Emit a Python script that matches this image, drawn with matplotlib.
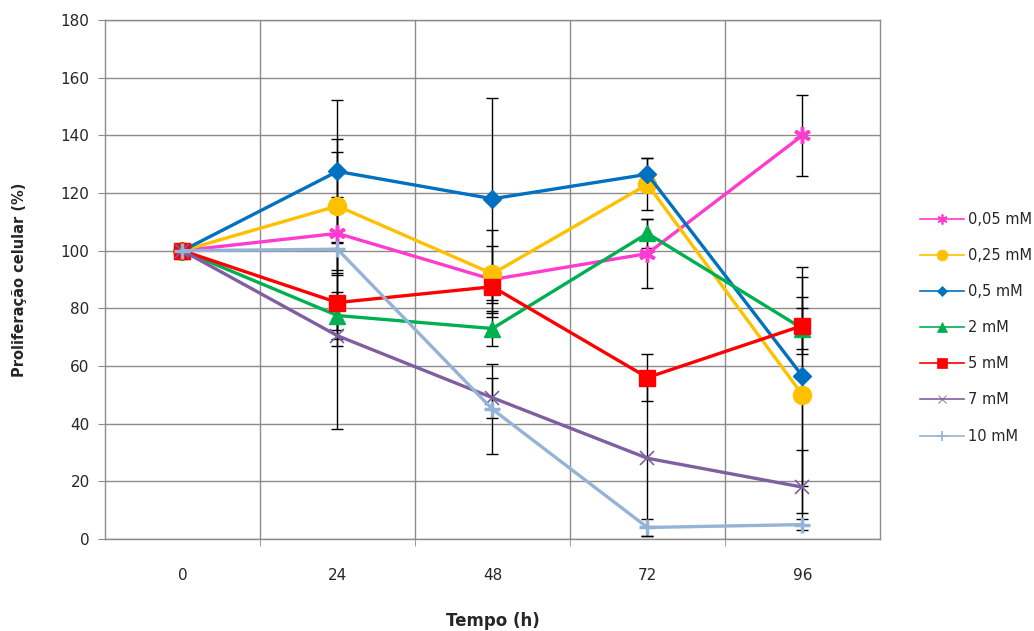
import numpy as np
import matplotlib
import matplotlib.pyplot as plt

matplotlib.use('Agg')

# data
tempo = ['0', '24', '48', '72', '96']
labels = ['0,05 mM', '0,25 mM', '0,5 mM', '2 mM', '5 mM', '7 mM', '10 mM']

c005 = [100, 106, 90, 99, 140]
c025 = [100, 115.5, 92, 123, 50]
c05 = [100, 127.5, 118, 126.5, 56.5]
c2 = [100, 77.5, 73, 106, 73]
c5 = [100, 82, 87.5, 56, 74]
c7 = [100, 70.5, 49, 28, 18]
c10 = [100, 100.5, 45, 4, 5]

e005 = [0, 12.7, 11.7, 12, 14]
e025 = [0, 23.2, 15, 9, 41]
e05 = [0, 24.8, 35, 5.5, 38]
e2 = [0, 8.3, 6, 5, 7]
e5 = [0, 9.5, 5.5, 8, 10]
e7 = [0, 32.4, 7, 27, 13]
e10 = [0, 33.7, 15.6, 3, 2]

series = [c005, c025, c05, c2, c5, c7, c10]
errors = [e005, e025, e05, e2, e5, e7, e10]

colors = ['#FF3BD0', '#FFC000', '#0070C0', '#00B050', '#FF0000', '#7F5F9F', '#95B3D7']
markers = [(6, 2, 0), 'o', 'D', '^', 's', 'x', '+']
msizes = [12, 13, 9, 12, 12, 10, 11]
mews = [2.5, 1, 1, 1, 1, 1.2, 2.5]

text_color = '#262626'
grid_color = '#8C8C8C'

fig = plt.figure(figsize=(10.34, 6.31), dpi=100)
ax = fig.add_axes([0.1015, 0.1458, 0.7495, 0.8225])

x = np.arange(len(tempo))

for i in range(len(series)):
    ax.errorbar(x, series[i], yerr=errors[i], fmt='none', ecolor='black',
                elinewidth=1, capsize=4, capthick=1, zorder=2 + i * 0.1)

handles = []
for i in range(len(series)):
    ax.plot(x, series[i], color=colors[i], lw=2.4, marker=markers[i],
            markersize=msizes[i], markeredgewidth=mews[i],
            markerfacecolor=colors[i], markeredgecolor=colors[i], zorder=3 + i * 0.1)
    h, = ax.plot([], [], color=colors[i], lw=1.2, marker=markers[i],
                 markersize=msizes[i] * 0.6, markeredgewidth=mews[i] * 0.5,
                 markerfacecolor=colors[i], markeredgecolor=colors[i])
    handles.append(h)

ax.set_xlim(-0.5, len(tempo) - 0.5)
ax.set_ylim(0, 180)
ax.set_yticks(np.arange(0, 181, 20))
ax.set_xticks(x)
ax.set_xticklabels(tempo, fontsize=11, color=text_color,
                   family=['Liberation Sans Narrow', 'DejaVu Sans'])
ax.set_xticks(np.arange(0.5, len(tempo) - 0.5, 1), minor=True)
ax.tick_params(axis='x', which='major', length=0, pad=21)
ax.tick_params(axis='x', which='minor', length=5, color=grid_color)
ax.tick_params(axis='y', length=5, color=grid_color, labelsize=11,
               labelcolor=text_color, pad=6)

ax.grid(axis='y', which='major', color=grid_color, lw=1)
ax.grid(axis='x', which='minor', color=grid_color, lw=1)
ax.set_axisbelow(True)
for s in ax.spines.values():
    s.set_color(grid_color)
    s.set_linewidth(1)

ax.set_ylabel('Proliferação celular (%)', fontsize=10.5, fontweight='bold',
              color=text_color, labelpad=24)
ax.set_xlabel('Tempo (h)', fontsize=12, fontweight='bold', color=text_color,
              family=['Liberation Sans Narrow', 'DejaVu Sans'], labelpad=21)

fig.legend(handles, labels, loc='upper left', bbox_to_anchor=(0.883, 0.676),
           frameon=False, fontsize=10.5, handlelength=3.0, handletextpad=0.3,
           labelspacing=1.45, borderpad=0, labelcolor=text_color)

fig.savefig('out.png', dpi=100, facecolor='white')
